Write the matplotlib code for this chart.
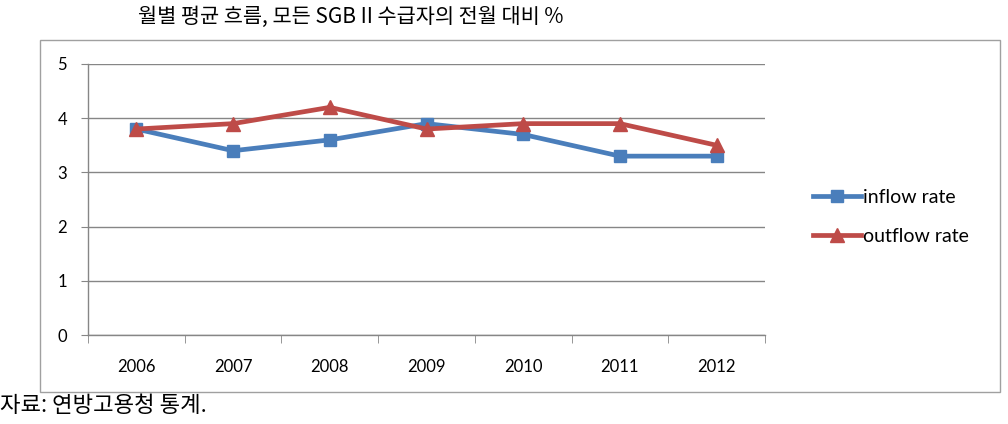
import matplotlib
matplotlib.use("Agg")
import matplotlib.pyplot as plt
from matplotlib.patches import Rectangle
import numpy as np

# data
years = ["2006", "2007", "2008", "2009", "2010", "2011", "2012"]
inflow_rate = [3.8, 3.4, 3.6, 3.9, 3.7, 3.3, 3.3]
outflow_rate = [3.8, 3.9, 4.2, 3.8, 3.9, 3.9, 3.5]
y_ticks = [0, 1, 2, 3, 4, 5]

title = "월별 평균 흐름, 모든 SGB II 수급자의 전월 대비 %"
source = "자료: 연방고용청 통계."

plt.rcParams["font.family"] = ["Lato", "DejaVu Sans"]

W, H = 1008, 424
fig = plt.figure(figsize=(W / 100, H / 100), dpi=100)
fig.patch.set_facecolor("white")

# outer chart frame
fig.patches.append(Rectangle((40 / W, 1 - 392 / H), 960 / W, 352 / H,
                             transform=fig.transFigure, fill=False,
                             edgecolor="#a0a0a0", linewidth=1.0))

ax = fig.add_axes([88 / W, 1 - 335 / H, (765 - 88) / W, (335 - 64) / H])
x = np.arange(len(years))

blue = "#4a7ebb"
red = "#be4b48"
ax.plot(x, inflow_rate, color=blue, linewidth=3.4, marker="s",
        markersize=8.5, label="inflow rate", zorder=3)
ax.plot(x, outflow_rate, color=red, linewidth=3.4, marker="^",
        markersize=9.5, label="outflow rate", zorder=4)

ax.set_xlim(-0.5, len(years) - 0.5)
ax.set_ylim(0, 5)
ax.set_yticks(y_ticks)
ax.set_yticklabels([str(v) for v in y_ticks], fontsize=12)
ax.set_xticks(x)
ax.set_xticklabels(years, fontsize=12)
ax.set_xticks(np.arange(-0.5, len(years), 1.0), minor=True)
ax.tick_params(axis="x", which="major", length=0, pad=17)
ax.tick_params(axis="x", which="minor", length=6, color="#868686", direction="out")
ax.tick_params(axis="y", length=5, color="#868686", pad=10)

for s in ["top", "right"]:
    ax.spines[s].set_visible(False)
for s in ["left", "bottom"]:
    ax.spines[s].set_color("#868686")
    ax.spines[s].set_linewidth(1.0)

ax.yaxis.grid(True, color="#868686", linewidth=1.0)
ax.set_axisbelow(True)

leg = fig.legend(loc="center left", bbox_to_anchor=(805 / W, 1 - 217 / H),
                 frameon=False, fontsize=14, handlelength=2.5,
                 handletextpad=0.1, labelspacing=1.15, borderaxespad=0)

fig.text(138 / W, 1 - 17 / H, title, fontsize=15,
         family=["Noto Sans CJK KR", "DejaVu Sans"], va="center", ha="left")
fig.text(0, 1 - 406 / H, source, fontsize=16,
         family=["Noto Sans CJK KR", "DejaVu Sans"], va="center", ha="left")

fig.savefig("out.png", dpi=100)
